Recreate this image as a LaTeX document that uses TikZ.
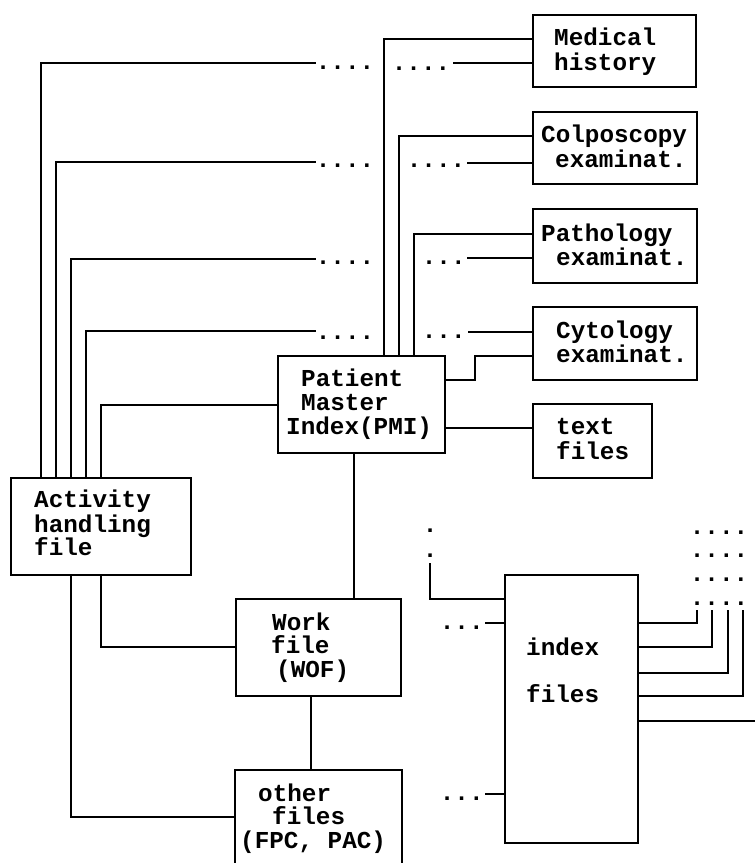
\documentclass[tikz,border=0pt]{standalone}
\usepackage{fontspec}
\setmonofont{Liberation Mono}
\newcommand\diagfont{\ttfamily\bfseries\fontsize{24.3}{25}\selectfont}
\tikzset{
  box/.style={draw, line width=2pt, inner sep=0pt, rectangle},
  ln/.style={line width=1.6pt},
  txt/.style={anchor=base west, inner sep=0pt, font=\diagfont},
}
\begin{document}
\begin{tikzpicture}[x=1pt,y=-1pt]
\useasboundingbox (0,0) rectangle (755,863);
% boxes
\node[box, minimum width=163pt, minimum height=72pt] (med) at (614.5,51) {};
\node[box, minimum width=164pt, minimum height=72pt] (colp) at (615,148) {};
\node[box, minimum width=164pt, minimum height=74pt] (patho) at (615,246) {};
\node[box, minimum width=164pt, minimum height=73pt] (cyto) at (615,343.5) {};
\node[box, minimum width=119pt, minimum height=74pt] (txtf) at (592.5,441) {};
\node[box, minimum width=167pt, minimum height=97pt] (pmi) at (361.5,404.5) {};
\node[box, minimum width=180pt, minimum height=97pt] (act) at (101,526.5) {};
\node[box, minimum width=165pt, minimum height=97pt] (work) at (318.5,647.5) {};
\node[box, minimum width=167pt, minimum height=100pt] (other) at (318.5,820) {};
\node[box, minimum width=133pt, minimum height=268pt] (idx) at (571.5,709) {};
% texts
\node[txt] (t1a) at (554,45) {Medical};
\node[txt] (t1b) at (554,70) {history};
\node[txt] (t2a) at (541,142) {Colposcopy};
\node[txt] (t2b) at (555,167) {examinat.};
\node[txt] (t3a) at (541,241) {Pathology};
\node[txt] (t3b) at (556,265) {examinat.};
\node[txt] (t4a) at (556,338) {Cytology};
\node[txt] (t4b) at (556,362) {examinat.};
\node[txt] (t5a) at (556,434) {text};
\node[txt] (t5b) at (556,459) {files};
\node[txt] (t6a) at (301,386) {Patient};
\node[txt] (t6b) at (301,410) {Master};
\node[txt] (t6c) at (286,434) {Index(PMI)};
\node[txt] (t7a) at (34,507) {Activity};
\node[txt] (t7b) at (34,532) {handling};
\node[txt] (t7c) at (34,555) {file};
\node[txt] (t8a) at (272,630) {Work};
\node[txt] (t8b) at (271,653) {file};
\node[txt] (t8c) at (276,677) {(WOF)};
\node[txt] (t9a) at (258,801) {other};
\node[txt] (t9b) at (272,824) {files};
\node[txt] (t9c) at (240,848) {(FPC, PAC)};
\node[txt] (t10a) at (526,655) {index};
\node[txt] (t10b) at (526,702) {files};
% dots
\node[txt] (dl1) at (315.7,69) {....};
\node[txt] (dl2) at (315.7,167) {....};
\node[txt] (dl3) at (315.7,264) {....};
\node[txt] (dl4) at (315.7,339) {....};
\node[txt] (dr1) at (391.7,70) {....};
\node[txt] (dr2) at (406.7,167) {....};
\node[txt] (dr3) at (421.7,264) {...};
\node[txt] (dr4) at (421.7,338) {...};
\node[txt] (di1) at (439.7,629) {...};
\node[txt] (di2) at (439.7,800) {...};
\node[txt] (dv1) at (422.7,532) {.};
\node[txt] (dv2) at (422.7,557) {.};
\node[txt] (dg1) at (689.7,534) {....};
\node[txt] (dg2) at (689.7,557) {....};
\node[txt] (dg3) at (689.7,581) {....};
\node[txt] (dg4) at (689.7,605) {....};
% coordinates
\coordinate (l1) at (316,63);
\coordinate (l2) at (316,162);
\coordinate (l3) at (316,259);
\coordinate (l4) at (316,331);
\coordinate (r1) at (453,63);
\coordinate (r2) at (467,163);
\coordinate (r3) at (467,258);
\coordinate (r4) at (468,332);
\coordinate (i0) at (430,563);
\coordinate (i1) at (485,623);
\coordinate (i2) at (485,794);
\coordinate (g1) at (697,610);
\coordinate (g2) at (712,610);
\coordinate (g3) at (728,610);
\coordinate (g4) at (743,610);
\coordinate (g5) at (760,721);
\coordinate (cs) at (475,380);
% connectors
\draw[ln] (act.north -| 41,0) |- (l1);
\draw[ln] (act.north -| 56,0) |- (l2);
\draw[ln] (act.north -| 71,0) |- (l3);
\draw[ln] (act.north -| 86,0) |- (l4);
\draw[ln] (act.north -| 101,0) |- (pmi.west |- 0,405);
\draw[ln] (pmi.north -| 384,0) |- (med.west |- 0,39);
\draw[ln] (pmi.north -| 399,0) |- (colp.west |- 0,136);
\draw[ln] (pmi.north -| 414,0) |- (patho.west |- 0,234);
\draw[ln] (pmi.east |- cs) -- (cs) |- (cyto.west |- 0,356);
\draw[ln] (pmi.east |- 0,428) -- (txtf.west |- 0,428);
\draw[ln] (pmi.south -| 354,0) -- (work.north -| 354,0);
\draw[ln] (work.south -| 311,0) -- (other.north -| 311,0);
\draw[ln] (act.south -| 101,0) |- (work.west |- 0,647);
\draw[ln] (act.south -| 71,0) |- (other.west |- 0,817);
\draw[ln] (r1) -- (med.west |- r1);
\draw[ln] (r2) -- (colp.west |- r2);
\draw[ln] (r3) -- (patho.west |- r3);
\draw[ln] (r4) -- (cyto.west |- r4);
\draw[ln] (i0) |- (idx.west |- 0,599);
\draw[ln] (i1) -- (idx.west |- i1);
\draw[ln] (i2) -- (idx.west |- i2);
\draw[ln] (idx.east |- 0,623) -| (g1);
\draw[ln] (idx.east |- 0,647) -| (g2);
\draw[ln] (idx.east |- 0,673) -| (g3);
\draw[ln] (idx.east |- 0,696) -| (g4);
\draw[ln] (idx.east |- 0,721) -- (g5);
\end{tikzpicture}
\end{document}
